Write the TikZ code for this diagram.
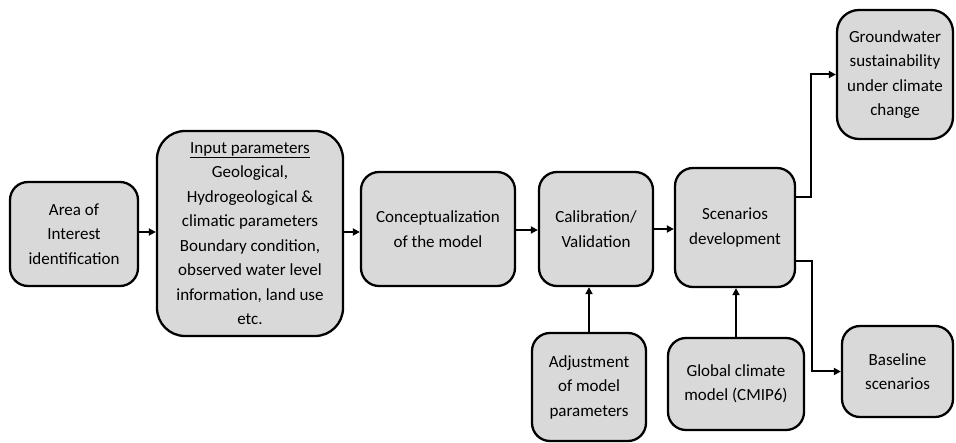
\documentclass[tikz,border=0pt]{standalone}
\usepackage{fontspec}
\setmainfont{Carlito}
\usetikzlibrary{arrows.meta}
\begin{document}
\begin{tikzpicture}[x=1pt,y=-1pt,
  box/.style={draw=black, line width=2.3pt, fill=boxgray, rounded corners=18pt,
    align=center, inner sep=2pt, font=\fontsize{17}{24.5}\selectfont},
  arr/.style={line width=2pt, -{Triangle[length=7pt,width=7pt]}}]
\definecolor{boxgray}{HTML}{D9D9D9}
\useasboundingbox (0,0) rectangle (956,443);
% main row
\node[box, minimum width=128pt, minimum height=104pt] (area) at (74,234)
  {Area of\\Interest\\identification};
\node[box, rounded corners=28pt, minimum width=186pt, minimum height=205pt] (input) at (250,233.5)
  {\underline{Input parameters}\\Geological,\\Hydrogeological \&\\climatic parameters\\Boundary condition,\\observed water level\\information, land use\\etc.};
\node[box, minimum width=154pt, minimum height=114pt] (concept) at (438,229)
  {Conceptualization\\of the model};
\node[box, minimum width=114pt, minimum height=114pt] (calib) at (596,229)
  {Calibration/\\Validation};
\node[box, minimum width=120pt, minimum height=119pt] (scen) at (735,227.5)
  {Scenarios\\development};
% outputs
\node[box, rounded corners=22pt, minimum width=116pt, minimum height=129pt] (gw) at (895,74.5)
  {Groundwater\\sustainability\\under climate\\change};
\node[box, minimum width=111pt, minimum height=91pt] (base) at (897.5,371.5)
  {Baseline\\scenarios};
% feeding inputs
\node[box, minimum width=136pt, minimum height=92pt] (gcm) at (736,384)
  {Global climate\\model (CMIP6)};
\node[box, minimum width=114pt, minimum height=108pt] (adj) at (589,387)
  {Adjustment\\of model\\parameters};
% connectors
\draw[arr] (area.east |- 0,232) -- (input.west |- 0,232);
\draw[arr] (input.east |- 0,232) -- (concept.west |- 0,232);
\draw[arr] (concept.east |- 0,230) -- (calib.west |- 0,230);
\draw[arr] (calib.east |- 0,229) -- (scen.west |- 0,229);
\coordinate (up) at (811,197);
\coordinate (down) at (812,261);
\draw[arr] (scen.east |- up) -- (up) |- (gw.west);
\draw[arr] (scen.east |- down) -- (down) |- (base.west);
\draw[arr] (gcm.north) -- (gcm.north |- scen.south);
\draw[arr] (adj.north) -- (adj.north |- calib.south);
\end{tikzpicture}
\end{document}
